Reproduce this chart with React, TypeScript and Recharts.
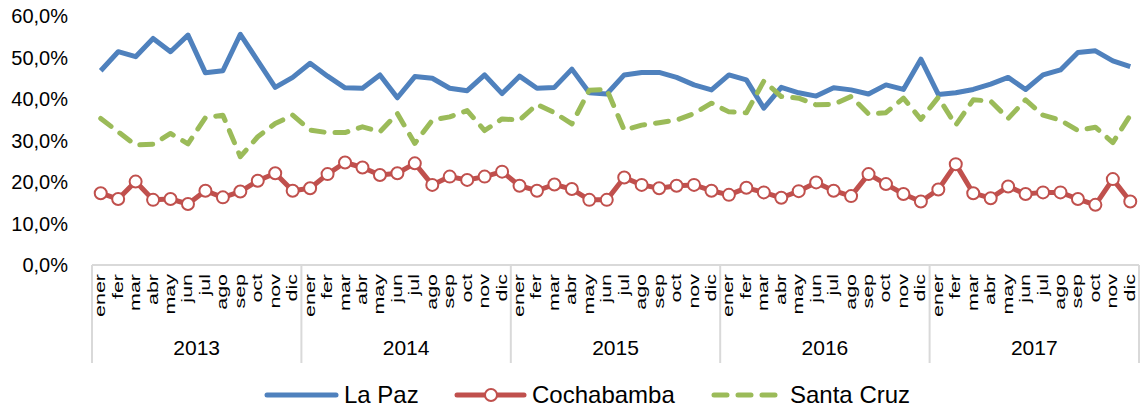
import React from 'react';
import { LineChart, Line, XAxis, YAxis, Legend } from 'recharts';

const months = ['ener', 'fer', 'mar', 'abr', 'may', 'jun', 'jul', 'ago', 'sep', 'oct', 'nov', 'dic'];
const years = ['2013', '2014', '2015', '2016', '2017'];

const laPaz = [
  46.8, 51.4, 50.2, 54.6, 51.4, 55.4, 46.3, 46.8, 55.6, 49.2, 42.8, 45.2,
  48.6, 45.5, 42.7, 42.6, 45.8, 40.3, 45.4, 45.0, 42.6, 42.0, 45.8, 41.3,
  45.5, 42.6, 42.8, 47.2, 41.5, 41.2, 45.8, 46.4, 46.4, 45.2, 43.4, 42.2,
  45.8, 44.6, 37.8, 42.8, 41.5, 40.7, 42.7, 42.2, 41.2, 43.4, 42.3, 49.6,
  41.1, 41.5, 42.3, 43.6, 45.2, 42.3, 45.8, 47.0, 51.2, 51.6, 49.2, 47.8,
];
const cochabamba = [
  17.3, 15.9, 20.1, 15.7, 15.9, 14.7, 17.9, 16.3, 17.7, 20.3, 22.1, 17.9,
  18.5, 21.9, 24.7, 23.5, 21.7, 22.1, 24.5, 19.3, 21.3, 20.5, 21.3, 22.5,
  19.1, 17.9, 19.4, 18.3, 15.7, 15.7, 21.1, 19.3, 18.5, 19.1, 19.3, 17.9,
  16.9, 18.6, 17.5, 16.2, 17.8, 19.9, 17.9, 16.6, 21.9, 19.5, 17.1, 15.3,
  18.2, 24.3, 17.3, 16.1, 18.9, 17.1, 17.5, 17.5, 15.9, 14.5, 20.7, 15.3,
];
const santaCruz = [
  35.3, 32.1, 28.9, 29.1, 31.7, 29.2, 35.5, 36.1, 26.1, 30.9, 34.1, 36.1,
  32.5, 31.9, 31.9, 33.3, 32.1, 36.5, 29.3, 34.9, 35.7, 37.2, 32.4, 35.2,
  34.9, 38.7, 36.7, 34.0, 42.1, 42.3, 32.5, 33.7, 34.3, 34.9, 36.5, 39.0,
  36.9, 36.7, 44.3, 40.6, 40.2, 38.6, 38.7, 40.6, 36.4, 36.7, 40.2, 35.1,
  40.4, 33.7, 39.8, 39.5, 35.3, 39.8, 36.1, 34.9, 32.4, 33.2, 29.5, 36.1,
];
const yTicks = [0, 10, 20, 30, 40, 50, 60];

const BLUE = '#4f81bd';
const RED = '#c0504d';
const GREEN = '#9bbb59';
const GRAY = '#d9d9d9';

const data = laPaz.map((v, i) => ({
  id: i,
  lp: v,
  co: cochabamba[i],
  sc: santaCruz[i],
}));

const W = 1140;
const H = 408;
const LEFT = 92;
const RIGHT_M = 1;
const BAND = (W - LEFT - RIGHT_M) / data.length;
const HALF = BAND / 2;

const fmtPct = (v: number) => v.toFixed(1).replace('.', ',') + '%';

const MonthTick = (props: any) => {
  const { x, y, payload } = props;
  const i = Number(payload.value);
  const m = months[i % 12];
  const yr = years[Math.floor(i / 12)];
  const els: any[] = [];
  els.push(
    <g key="t" transform={`translate(${x},${y + 9}) rotate(-90)`}>
      <text transform="scale(1.43,1)" textAnchor="end" dy="0.3em" fontSize={15} fill="#000">
        {m}
      </text>
    </g>
  );
  if (i % 12 === 0) {
    els.push(<line key="s" x1={x - HALF} x2={x - HALF} y1={y} y2={y + 98} stroke={GRAY} strokeWidth={2} />);
  }
  if (i === data.length - 1) {
    els.push(<line key="e" x1={x + HALF} x2={x + HALF} y1={y} y2={y + 98} stroke={GRAY} strokeWidth={2} />);
  }
  if (i % 12 === 5) {
    els.push(
      <text key="y" x={x + HALF} y={y + 82} textAnchor="middle" dy="0.36em" fontSize={21} fill="#000">
        {yr}
      </text>
    );
  }
  return <g>{els}</g>;
};

const LegendContent = () => {
  const base: React.CSSProperties = { position: 'absolute', top: 0, height: 30, display: 'flex', alignItems: 'center' };
  const txt: React.CSSProperties = { fontSize: 24, color: '#000', whiteSpace: 'nowrap', lineHeight: '30px' };
  return (
    <div style={{ position: 'relative', width: W, height: 30 }}>
      <div style={{ ...base, left: 262 }}>
        <svg width={80} height={30}>
          <line x1={5} x2={74} y1={15} y2={15} stroke={BLUE} strokeWidth={5} strokeLinecap="round" />
        </svg>
      </div>
      <div style={{ ...base, left: 344 }}><span style={txt}>La Paz</span></div>
      <div style={{ ...base, left: 452 }}>
        <svg width={78} height={30}>
          <line x1={5} x2={72} y1={15} y2={15} stroke={RED} strokeWidth={5} strokeLinecap="round" />
          <circle cx={39} cy={15} r={6} fill="#fff" stroke={RED} strokeWidth={2} />
        </svg>
      </div>
      <div style={{ ...base, left: 532 }}><span style={txt}>Cochabamba</span></div>
      <div style={{ ...base, left: 709 }}>
        <svg width={70} height={30}>
          <line x1={5} x2={66} y1={15} y2={15} stroke={GREEN} strokeWidth={5} strokeLinecap="round" strokeDasharray="13 11" />
        </svg>
      </div>
      <div style={{ ...base, left: 790 }}><span style={txt}>Santa Cruz</span></div>
    </div>
  );
};

export default function App() {
  return (
    <div style={{ position: 'absolute', left: 0, top: 0, fontFamily: '"Liberation Sans", Arial, sans-serif' }}>
      <LineChart width={W} height={H} data={data} margin={{ top: 16, right: RIGHT_M, left: 0, bottom: 0 }}>
        <XAxis
          dataKey="id"
          type="category"
          interval={0}
          height={143}
          padding={{ left: HALF, right: HALF }}
          tickLine={false}
          tickSize={0}
          tickMargin={0}
          axisLine={{ stroke: GRAY, strokeWidth: 2 }}
          tick={<MonthTick />}
        />
        <YAxis
          width={LEFT}
          domain={[0, 60]}
          ticks={yTicks}
          type="number"
          axisLine={false}
          tickLine={false}
          tickSize={0}
          tickMargin={24}
          tickFormatter={fmtPct}
          tick={{ fontSize: 20, fill: '#000' }}
        />
        <Legend
          layout="horizontal"
          verticalAlign="middle"
          align="center"
          wrapperStyle={{ position: 'absolute', left: 0, top: 380, width: W, height: 30 }}
          content={<LegendContent />}
        />
        <Line
          dataKey="lp"
          name="La Paz"
          stroke={BLUE}
          strokeWidth={5}
          strokeLinejoin="round"
          dot={false}
          activeDot={false}
          isAnimationActive={false}
        />
        <Line
          dataKey="co"
          name="Cochabamba"
          stroke={RED}
          strokeWidth={5}
          strokeLinejoin="round"
          dot={{ r: 6, fill: '#fff', stroke: RED, strokeWidth: 2 }}
          activeDot={false}
          isAnimationActive={false}
        />
        <Line
          dataKey="sc"
          name="Santa Cruz"
          stroke={GREEN}
          strokeWidth={5}
          strokeLinejoin="round"
          strokeLinecap="round"
          strokeDasharray="13 11"
          dot={false}
          activeDot={false}
          isAnimationActive={false}
        />
      </LineChart>
    </div>
  );
}
